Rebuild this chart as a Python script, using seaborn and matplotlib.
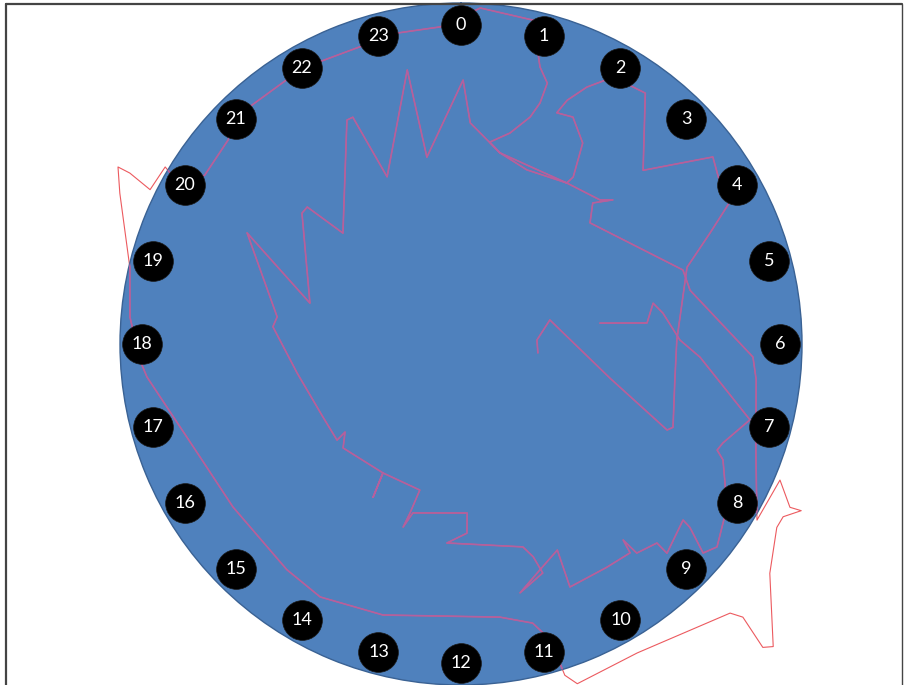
import numpy as np
import pandas as pd
import matplotlib
matplotlib.use("Agg")
import matplotlib.pyplot as plt
import seaborn as sns
from matplotlib.lines import Line2D

# hour of day (clock position) and level of the trace
trace_hour = [6.44, 5.80, 4.99, 6.86, 7.51, 7.43, 6.64, 5.93, 4.75, 4.40,
              4.18, 4.06, 3.88, 3.56, 3.09, 2.42, 1.98, 1.74, 1.57, 1.50,
              1.75, 2.08, 2.26, 2.22, 1.38, 0.77, 0.54, 0.87, 1.13, 1.21,
              1.22, 1.06, 0.84, 0.22, 23.75, 23.22, 22.01, 20.99, 20.75, 20.23,
              19.94, 20.06, 19.76, 19.82, 19.82, 19.59, 18.87, 18.31, 17.81, 17.60,
              16.44, 15.63, 14.51, 13.94, 13.07, 11.46, 11.04, 10.88, 10.84, 10.74,
              10.02, 9.00, 8.94, 9.01, 8.94, 8.44, 8.01, 7.88, 7.74, 7.76,
              7.54, 8.05, 7.32, 6.46, 6.17, 5.12, 4.77, 3.12, 2.87, 3.10,
              2.93, 2.22, 0.77, 0.16, 0.03, 23.31, 23.26, 22.41, 22.30, 22.20,
              20.88, 20.78, 20.63, 19.01, 19.83, 18.56, 18.35, 17.33, 16.14, 15.48,
              15.52, 15.24, 14.08, 13.99, 14.08, 13.05, 13.12, 13.17, 13.06, 11.86,
              11.88, 12.27, 10.87, 10.75, 10.69, 11.11, 10.72, 10.33, 10.39, 9.79,
              9.40, 9.36, 9.33, 9.03, 9.03, 8.56, 8.58, 8.72, 8.56, 8.10,
              7.59, 7.50, 7.38, 6.98, 6.21, 5.93, 5.42, 5.20, 5.57, 5.43]
trace_level = [22.7, 22.3, 27.0, 44.8, 65.5, 66.8, 63.6, 63.3, 70.0, 79.9,
               87.7, 92.7, 89.4, 92.0, 73.8, 91.3, 90.1, 83.9, 78.0, 73.4,
               74.2, 68.9, 59.0, 56.5, 54.6, 57.2, 59.8, 63.5, 69.6, 74.4,
               80.6, 84.5, 97.3, 98.7, 93.2, 93.1, 93.3, 93.9, 90.8, 90.0,
               92.9, 101.1, 101.8, 109.3, 113.2, 109.4, 99.7, 97.4, 94.3, 92.6,
               83.4, 82.2, 83.6, 84.9, 82.7, 80.9, 84.5, 90.6, 101.8, 105.3,
               104.3, 111.6, 115.1, 125.5, 127.5, 112.8, 107.1, 107.2, 111.1, 107.7,
               101.7, 101.0, 91.9, 87.2, 85.7, 69.0, 68.6, 51.9, 56.6, 61.4,
               58.7, 56.5, 57.2, 64.9, 77.4, 55.7, 81.9, 53.6, 73.7, 73.7,
               47.5, 60.4, 60.4, 45.9, 70.7, 54.5, 55.4, 48.8, 45.8, 46.0,
               42.7, 46.1, 44.2, 51.8, 44.2, 44.5, 51.8, 56.3, 51.5, 49.6,
               55.5, 58.5, 62.2, 65.9, 71.3, 75.0, 70.2, 66.7, 78.1, 78.2,
               78.8, 74.6, 80.1, 81.9, 86.1, 83.1, 86.0, 93.8, 95.8, 91.5,
               84.0, 81.3, 82.1, 87.6, 70.2, 64.2, 59.9, 57.6, 54.9, 41.2]

clock_hours = list(range(24))

trace = pd.DataFrame({"theta": np.array(trace_hour) * 2 * np.pi / 24,
                      "level": trace_level})
marks = pd.DataFrame({"theta": np.array(clock_hours) * 2 * np.pi / 24,
                      "level": 93.5,
                      "label": [str(h) for h in clock_hours]})

sns.set_style("white")
plt.rcParams["font.family"] = ["Lato", "DejaVu Sans"]

fig = plt.figure(figsize=(9.05, 6.85), dpi=100)
ax = fig.add_axes([0.1326, 0.0, 0.7536, 0.9956], projection="polar")
ax.set_theta_zero_location("N")
ax.set_theta_direction(-1)
ax.set_ylim(0, 100)
ax.set_facecolor("#4f81bd")
ax.spines["polar"].set_color("#3a6294")
ax.spines["polar"].set_linewidth(1.0)
ax.grid(False)
ax.set_xticks([])
ax.set_yticks([])

# faint copy that also shows outside the dial
sns.lineplot(data=trace, x="theta", y="level", sort=False, estimator=None,
             color="#ec5a5f", linewidth=0.8, ax=ax, clip_on=False, zorder=2)
# the part over the blue dial
sns.lineplot(data=trace, x="theta", y="level", sort=False, estimator=None,
             color="#b4609f", linewidth=1.2, ax=ax, zorder=3)

sns.scatterplot(data=marks, x="theta", y="level", s=820, color="black",
                edgecolor="#1a1a1a", linewidth=0.5, ax=ax, zorder=4, clip_on=False)
for _, row in marks.iterrows():
    ax.text(row["theta"], row["level"], row["label"], color="white",
            fontsize=13, ha="center", va="center", zorder=5)

ax.set_xlabel("")
ax.set_ylabel("")

# frame lines of the screenshot
fig.add_artist(Line2D([6 / 905, 902 / 905], [1 - 4 / 685, 1 - 4 / 685],
                      color="#444444", linewidth=1.6))
fig.add_artist(Line2D([6 / 905, 6 / 905], [0, 1 - 4 / 685],
                      color="#444444", linewidth=1.6))
fig.add_artist(Line2D([902 / 905, 902 / 905], [0, 1 - 4 / 685],
                      color="#444444", linewidth=1.0))

fig.savefig("out.png", dpi=100)
